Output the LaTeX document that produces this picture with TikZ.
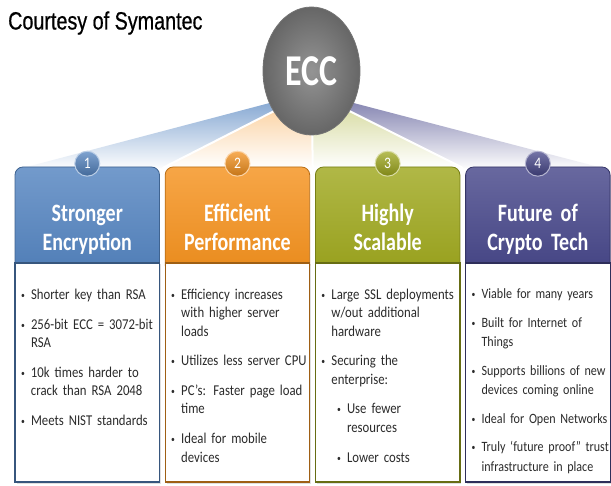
\documentclass[tikz,border=0pt]{standalone}
\usepackage{fontspec}
\usetikzlibrary{shapes.geometric,shadows}
\newfontfamily\hdfont[FakeStretch=0.85]{Carlito}
\newfontfamily\hxfont[FakeStretch=0.8]{Carlito}
\newfontfamily\eccfont[FakeStretch=0.77]{Carlito}
\newfontfamily\ttlfont[FakeStretch=0.79,FakeBold=0.6]{Liberation Sans}
\definecolor{cA}{HTML}{5484C0}
\definecolor{cB}{HTML}{F5921E}
\definecolor{cC}{HTML}{9FA81E}
\definecolor{cD}{HTML}{47478A}
\definecolor{txt}{HTML}{2B2B2B}
\newlength\bind \setlength\bind{10pt}
\newlength\bgap \setlength\bgap{11.5pt}
\newcommand\bmark{\makebox[\bind][l]{\raisebox{1pt}{\fontsize{9}{9}\selectfont\textbullet}}}
\newcommand\bfirst[1]{\hangindent=\bind\hangafter=1\noindent\bmark#1\par}
\newcommand\bitem[1]{\vspace{\bgap}\hangindent=\bind\hangafter=1\noindent\bmark#1\par}
\newcommand\bsub[1]{\vspace{\bgap}\hangindent=25.6pt\hangafter=1\noindent\hspace{15.6pt}\makebox[10pt][l]{\raisebox{1pt}{\fontsize{9}{9}\selectfont\textbullet}}#1\par}
\tikzset{
  hdr/.style={rectangle, rounded corners=8pt, minimum width=144.5pt, minimum height=106pt, inner sep=0pt,
    draw=#1!75!black, line width=0.8pt, top color=#1!82!white, bottom color=#1!95!black},
  bodybox/.style={rectangle, minimum width=144.5pt, minimum height=219pt, inner sep=0pt, fill=white,
    draw=#1!65!black, line width=1.2pt, drop shadow={opacity=0.25, shadow xshift=1.5pt, shadow yshift=-1.5pt}},
  numc/.style={circle, minimum size=25pt, inner sep=0pt, draw=#1!40!white, line width=1pt,
    top color=#1!75!white, bottom color=#1!80!black, text=white, font=\hdfont\fontsize{16}{16}\selectfont},
  hdtxt/.style={anchor=base, inner sep=0pt, text width=140pt, align=center, text=white,
    font=\hxfont\bfseries\fontsize{25}{28.3}\selectfont},
  bodytxt/.style={anchor=base west, inner sep=0pt, text width=138pt, align=left, text=txt,
    font=\hdfont\fontsize{15}{18.3}\selectfont},
  sep/.style={white, line width=2pt}
}
\begin{document}
\begin{tikzpicture}[x=1pt,y=-1pt]
\useasboundingbox (0,0) rectangle (611,486);
\fill[white] (0,0) rectangle (611,486);

% title
\node[anchor=base west, inner sep=0pt, font=\ttlfont\fontsize{25}{25}\selectfont] (title) at (8,29.5) {Courtesy of Symantec};

% fan
\coordinate (A) at (311.5,92);
\coordinate (d0) at (15,170);
\coordinate (d1) at (162.6,168);
\coordinate (d2) at (312.8,168);
\coordinate (d3) at (463,168);
\coordinate (d4) at (610,170);
\shade[top color=cA!80!white, bottom color=white] (A) -- (d0) -- (d1) -- cycle;
\shade[top color=cB!50!white, bottom color=white] (A) -- (d1) -- (d2) -- cycle;
\shade[top color=cC!50!white, bottom color=white] (A) -- (d2) -- (d3) -- cycle;
\shade[top color=cD!75!white, bottom color=white] (A) -- (d3) -- (d4) -- cycle;
\draw[sep] (A) -- (d1) (A) -- (d2) (A) -- (d3);

% ECC
\node[ellipse, minimum width=97pt, minimum height=128pt, inner sep=0pt, inner color=black!42, outer color=black!60,
  draw=black!55, line width=0.8pt, text=white, font=\eccfont\bfseries\fontsize{44}{44}\selectfont] (ecc) at (311.5,71) {ECC};

% headers
\node[hdr=cA] (h1) at (87.25,220) {};
\node[hdr=cB] (h2) at (237.45,220) {};
\node[hdr=cC] (h3) at (387.65,220) {};
\node[hdr=cD] (h4) at (537.85,220) {};

% bodies
\node[bodybox=cA] (b1) at (87.25,372.5) {};
\node[bodybox=cB] (b2) at (237.45,372.5) {};
\node[bodybox=cC] (b3) at (387.65,372.5) {};
\node[bodybox=cD] (b4) at (537.85,372.5) {};

% number circles
\node[numc=cA] (n1) at (87.25,163.7) {1};
\node[numc=cB] (n2) at (237.45,163.7) {2};
\node[numc=cC] (n3) at (387.65,163.7) {3};
\node[numc=cD] (n4) at (537.85,163.7) {4};

% header texts
\node[hdtxt] (t1) at (87.25,222) {Stronger\\Encryption};
\node[hdtxt] (t2) at (237.45,222) {Efficient\\Performance};
\node[hdtxt] (t3) at (387.65,222) {Highly\\Scalable};
\node[hdtxt] (t4) at (537.85,222) {Future of\\Crypto Tech};

% body texts
\node[bodytxt] (l1) at (20.8,299.5) {%
\bfirst{Shorter key than RSA}
\bitem{256-bit ECC = 3072-bit\newline RSA}
\bitem{10k times harder to\newline crack than RSA 2048}
\bitem{Meets NIST standards}};

\node[bodytxt] (l2) at (171,299.5) {%
\bfirst{Efficiency increases\newline with higher server\newline loads}
\bitem{Utilizes less server CPU}
\bitem{PC’s: Faster page load\newline time}
\bitem{Ideal for mobile\newline devices}};

\node[bodytxt] (l3) at (321.2,299.5) {%
\bfirst{Large SSL deployments\newline w/out additional\newline hardware}
\bitem{Securing the\newline enterprise:}
\bsub{Use fewer\newline resources}
\bsub{Lower costs}};

\node[bodytxt, font=\hdfont\fontsize{14.2}{19.5}\selectfont] (l4) at (471.4,299) {%
\setlength\bgap{9pt}%
\bfirst{Viable for many years}
\bitem{Built for Internet of\newline Things}
\bitem{Supports billions of new\newline devices coming online}
\bitem{Ideal for Open Networks}
\bitem{Truly ‘future proof” trust\newline infrastructure in place}};
\end{tikzpicture}
\end{document}
